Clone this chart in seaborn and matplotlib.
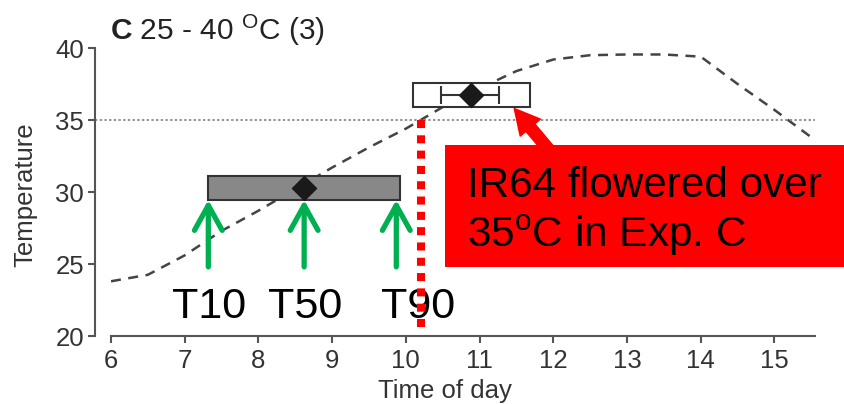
import matplotlib
matplotlib.use("Agg")
import matplotlib.pyplot as plt
from matplotlib.patches import Rectangle
import numpy as np
import pandas as pd
import seaborn as sns

# ---------------- data ----------------
hours = [6, 6.5, 7, 7.5, 8, 8.5, 9, 9.5, 10, 10.5, 11, 11.5, 12, 12.5, 13, 13.5, 14, 14.5, 15, 15.5]
temperature = [23.8, 24.25, 25.6, 27.3, 28.7, 30.2, 31.7, 33.1, 34.4, 35.9, 37.2, 38.4,
               39.2, 39.5, 39.55, 39.55, 39.4, 37.5, 35.7, 33.8]

threshold = 35
# flowering boxes: [Exp C main, IR64]
box_t10 = [7.31, 10.09]
box_t90 = [9.92, 11.68]
box_t50 = [8.62, 10.89]
box_low = [29.45, 35.9]
box_high = [31.1, 37.6]
box_mid = [30.3, 36.75]
box_colors = ["#888888", "#ffffff"]
err_low = [10.48]
err_high = [11.26]
err_y = [36.75]

cross_time = 10.2  # time temperature crosses 35 C

arrow_x = [7.32, 8.62, 9.87]
arrow_labels = ["T10", "T50", "T90"]
label_x = [7.33, 8.63, 10.17]

xticks = [6, 7, 8, 9, 10, 11, 12, 13, 14, 15]
yticks = [20, 25, 30, 35, 40]

# ---------------- style ----------------
sns.set_theme(style="ticks")
plt.rcParams["font.family"] = ["Liberation Sans", "DejaVu Sans"]
plt.rcParams["mathtext.fontset"] = "custom"
plt.rcParams["mathtext.rm"] = "Liberation Sans"
plt.rcParams["mathtext.bf"] = "Liberation Sans:bold"
plt.rcParams["mathtext.it"] = "Liberation Sans:italic"

fig = plt.figure(figsize=(8.45, 4.04), dpi=100)
ax = fig.add_axes([111 / 845, 68 / 404, 704 / 845, 288 / 404])

df = pd.DataFrame({"Time of day": hours, "Temperature": temperature})
sns.lineplot(data=df, x="Time of day", y="Temperature", ax=ax, color="#444444",
             lw=1.8, linestyle=(0, (4, 3)), zorder=1)

ax.set_xlim(6, 15.55)
ax.set_ylim(20, 40)

# threshold line
ax.plot([5.78, 15.55], [threshold, threshold], color="#8a8a8a", lw=1.3,
        linestyle=(0, (1.3, 1.3)), clip_on=False, zorder=1)

# boxes
for lo, hi, yl, yh, c in zip(box_t10, box_t90, box_low, box_high, box_colors):
    ax.add_patch(Rectangle((lo, yl), hi - lo, yh - yl, facecolor=c,
                           edgecolor="#333333", lw=1.5, zorder=3))
# error bar for IR64
for lo, hi, y in zip(err_low, err_high, err_y):
    ax.errorbar([(lo + hi) / 2], [y], xerr=[[(hi - lo) / 2], [(hi - lo) / 2]],
                fmt="none", ecolor="#333333", elinewidth=1.5, capsize=6.5,
                capthick=1.5, zorder=4)
sns.scatterplot(x=box_t50, y=box_mid, ax=ax, marker="D", s=150, color="#1a1a1a",
                edgecolor="#1a1a1a", zorder=5, legend=False)

# red dotted vertical line
ax.plot([cross_time, cross_time], [threshold, 20.2], color="red", lw=5.8,
        linestyle=(0, (1, 0.9)), zorder=6)

# green arrows and labels
for x, lx, lab in zip(arrow_x, label_x, arrow_labels):
    ax.annotate("", xy=(x, box_low[0]), xytext=(x, 24.8),
                arrowprops=dict(arrowstyle="->,head_length=0.9,head_width=0.5",
                                color="#00B050", lw=3.8, mutation_scale=20,
                                shrinkA=0, shrinkB=0), zorder=5)
    ax.text(lx, 21.25, lab, fontsize=31, ha="center", va="baseline",
            color="black", zorder=4)

# red arrow pointing to IR64 box
ax.annotate("", xy=(11.47, 35.8), xytext=(11.93, 33.0),
            arrowprops=dict(arrowstyle="simple,head_length=0.9,head_width=0.95,tail_width=0.42",
                            color="red", mutation_scale=20, shrinkA=0, shrinkB=0),
            zorder=5, annotation_clip=False)

# spines / ticks
sns.despine(ax=ax)
ax.spines["left"].set_position(("outward", 11.5))
for s in ["left", "bottom"]:
    ax.spines[s].set_color("#555555")
    ax.spines[s].set_linewidth(1.5)
ax.set_xticks(xticks)
ax.set_yticks(yticks)
ax.tick_params(axis="both", which="major", length=5, width=1.5, color="#555555",
               labelsize=18.5, labelcolor="#333333")
ax.tick_params(axis="x", pad=4)
ax.tick_params(axis="y", pad=3)
ax.set_xlabel("Time of day", fontsize=18.5, color="#333333")
ax.set_ylabel("Temperature", fontsize=18.5, color="#333333")
ax.xaxis.set_label_coords(0.475, -0.148)
ax.yaxis.set_label_coords(-0.104, 0.49)

# title
fig.text(110 / 845, (404 - 40) / 404, r"$\mathbf{C}$ 25 - 40 $^{\mathrm{O}}$C (3)",
         fontsize=21.5, ha="left", va="baseline", color="#222222")

# red annotation box
fig.patches.append(Rectangle((445 / 845, (404 - 267) / 404), 400 / 845, 122 / 404,
                             transform=fig.transFigure, facecolor="red",
                             edgecolor="none", zorder=7))
fig.text(467 / 845, (404 - 197) / 404, "IR64 flowered over", fontsize=30.4,
         ha="left", va="baseline", color="black", zorder=8)
fig.text(467 / 845, (404 - 247) / 404, r"35$^{\mathrm{o}}$C in Exp. C", fontsize=30.4,
         ha="left", va="baseline", color="black", zorder=8)

fig.savefig("out.png", dpi=100)
